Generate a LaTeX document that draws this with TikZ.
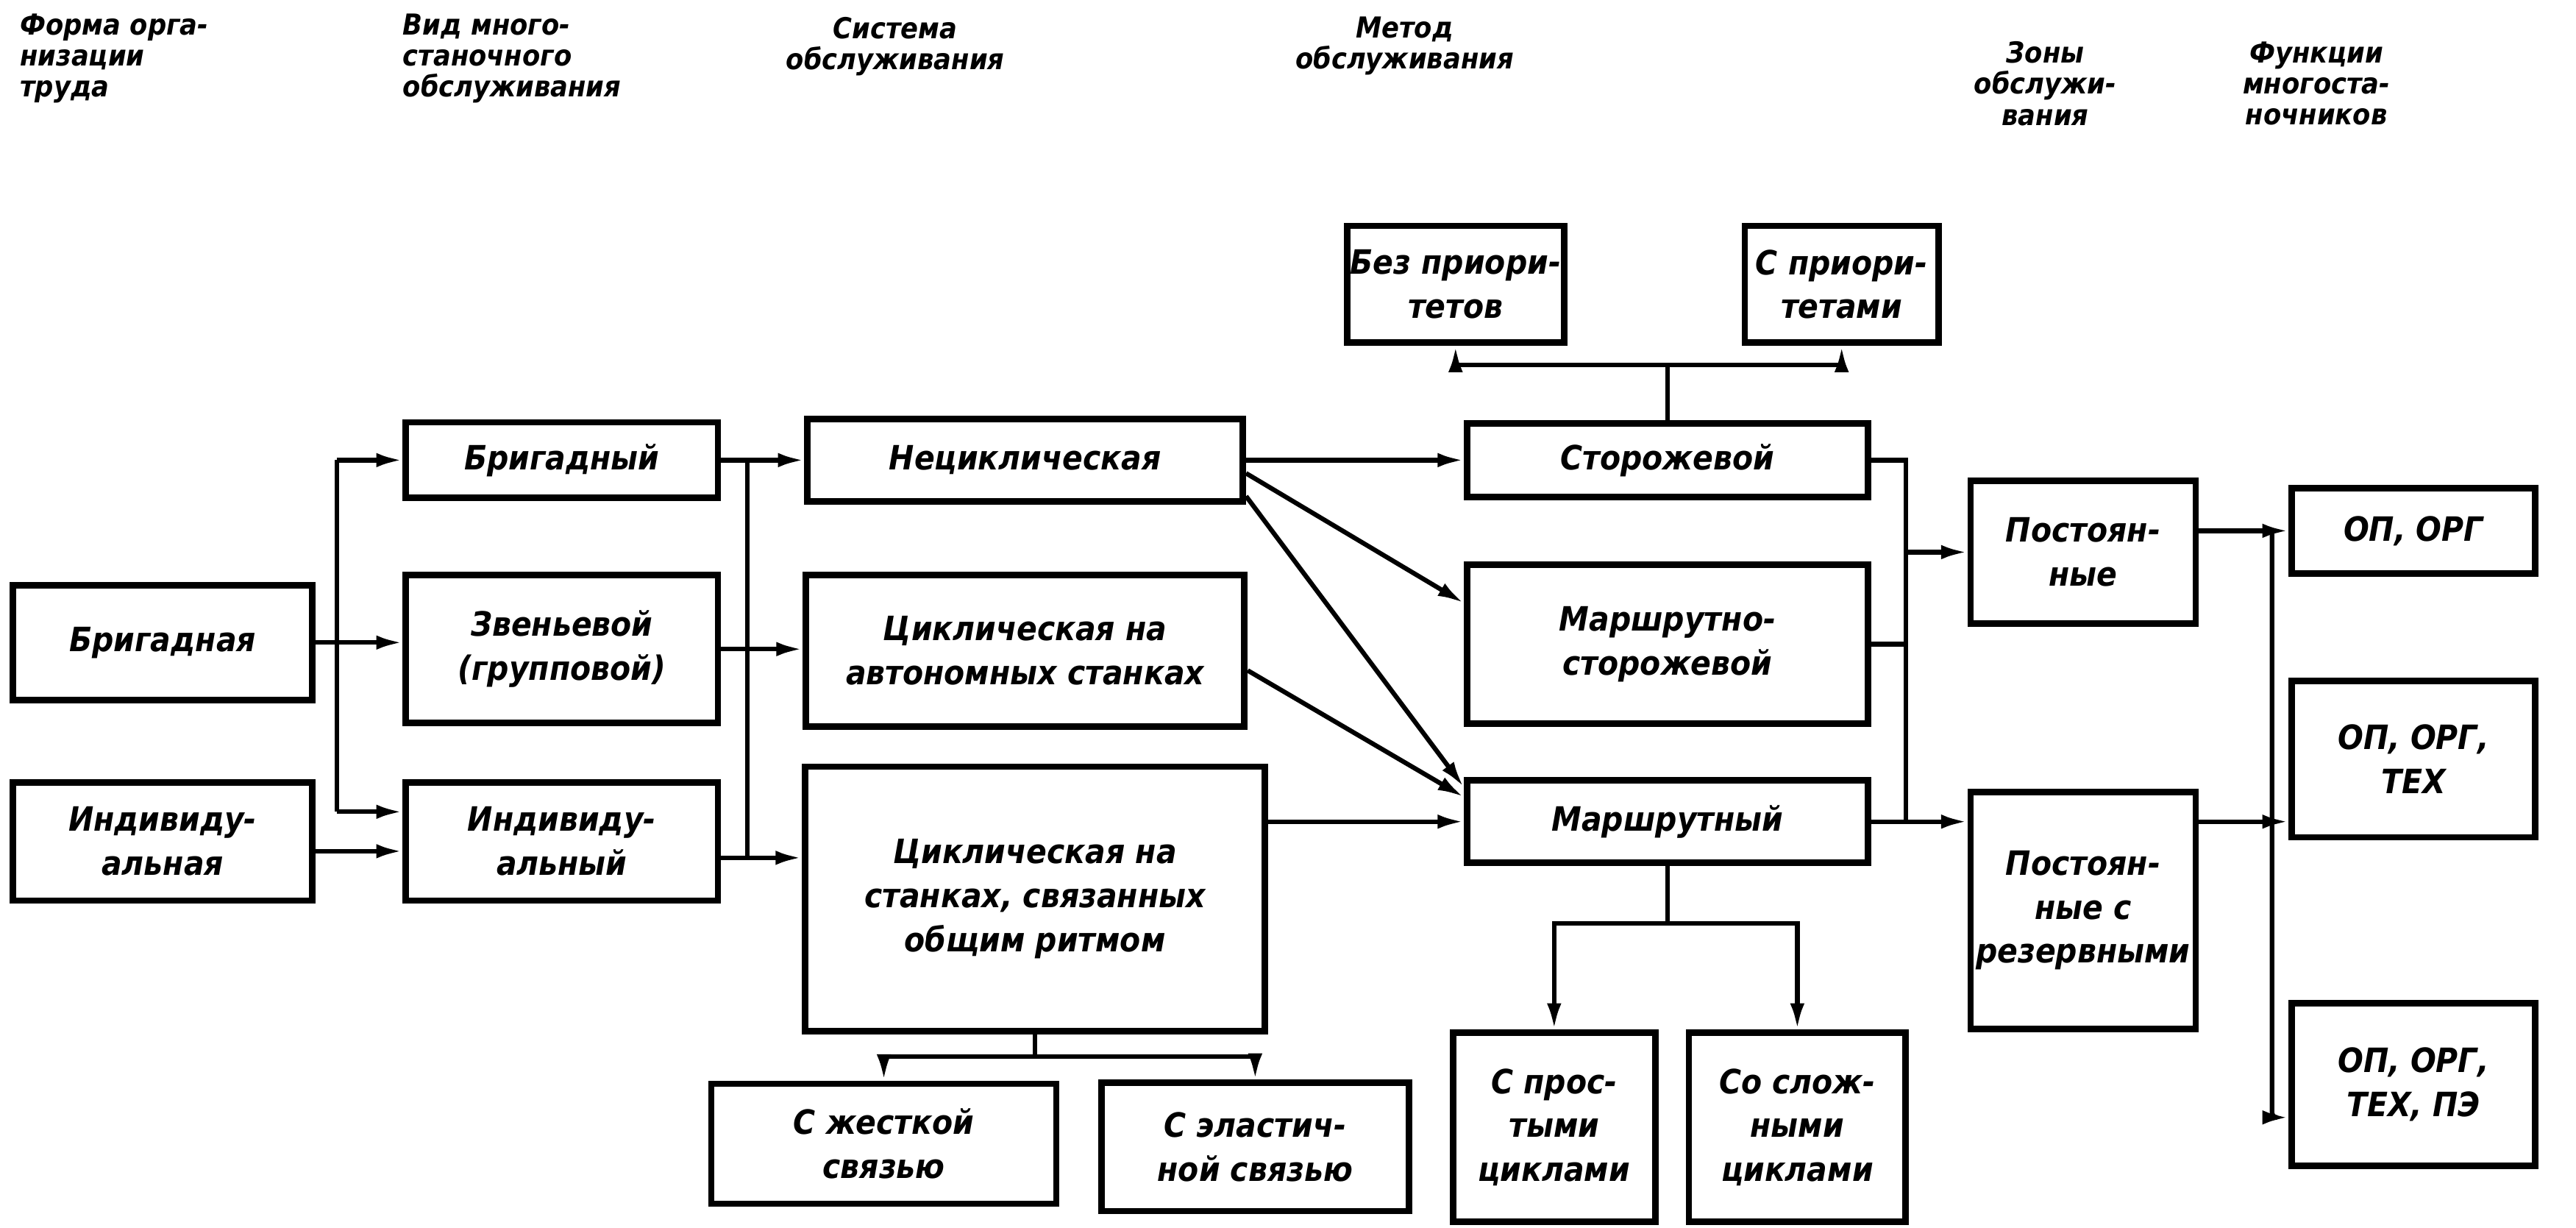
\documentclass[tikz,border=0pt]{standalone}
\usepackage{fontspec}
\setmainfont{DejaVu Sans}
\newfontfamily\bxfont{DejaVu Sans Condensed}
\usetikzlibrary{arrows.meta,calc}
\newdimen\ux \ux=0.25mm

\begin{document}
\begin{tikzpicture}[x=0.25mm,y=-0.25mm,
    blk/.style={draw,line width=2.8pt,inner sep=0pt,align=center,
      font=\bxfont\bfseries\itshape\fontsize{14.5}{19}\selectfont},
    hd/.style={inner sep=0pt,font=\bxfont\bfseries\itshape\fontsize{12.5}{13.5}\selectfont},
    ln/.style={line width=2pt},
    arr/.style={ln,-{Latex[length=4mm,width=2.2mm]}}]
    \useasboundingbox (0,0) rectangle (1568,747);

    % headings
    \node[hd,anchor=north west,align=left] (h1) at (12,8) {Форма орга-\\низации\\труда};
    \node[hd,anchor=north west,align=left] (h2) at (245,8) {Вид много-\\станочного\\обслуживания};
    \node[hd,anchor=north,align=center] (h3) at (545,10) {Система\\обслуживания};
    \node[hd,anchor=north,align=center] (h4) at (855,10) {Метод\\обслуживания};
    \node[hd,anchor=north,align=center] (h5) at (1245,25) {Зоны\\обслужи-\\вания};
    \node[hd,anchor=north,align=center] (h6) at (1410,25) {Функции\\многоста-\\ночников};

    % boxes
    \node[blk,minimum width=182\ux,minimum height=70\ux] (bbrig) at (99,391) {Бригадная};
    \node[blk,minimum width=182\ux,minimum height=72\ux] (bind) at (99,512) {Индивиду-\\альная};
    \node[blk,minimum width=190\ux,minimum height=46\ux] (cbrig) at (342,280) {Бригадный};
    \node[blk,minimum width=190\ux,minimum height=90\ux] (czven) at (342,395) {Звеньевой\\(групповой)};
    \node[blk,minimum width=190\ux,minimum height=72\ux] (cind) at (342,512) {Индивиду-\\альный};
    \node[blk,minimum width=265\ux,minimum height=50\ux] (snec) at (624,280) {Нециклическая};
    \node[blk,minimum width=267\ux,minimum height=92\ux] (savt) at (624,396) {Циклическая на\\автономных станках};
    \node[blk,minimum width=280\ux,minimum height=161\ux] (sritm) at (630,547) {Циклическая на\\станках, связанных\\общим ритмом};
    \node[blk,minimum width=210\ux,minimum height=73\ux] (szh) at (538,696) {С жесткой\\связью};
    \node[blk,minimum width=187\ux,minimum height=78\ux] (sel) at (764,698) {С эластич-\\ной связью};
    \node[blk,minimum width=132\ux,minimum height=71\ux] (mbez) at (886,173) {Без приори-\\тетов};
    \node[blk,minimum width=118\ux,minimum height=71\ux] (mspr) at (1121,173) {С приори-\\тетами};
    \node[blk,minimum width=244\ux,minimum height=45\ux] (mstor) at (1015,280) {Сторожевой};
    \node[blk,minimum width=244\ux,minimum height=97\ux] (mmst) at (1015,392) {Маршрутно-\\сторожевой};
    \node[blk,minimum width=244\ux,minimum height=50\ux] (mmar) at (1015,500) {Маршрутный};
    \node[blk,minimum width=123\ux,minimum height=115\ux] (mpr) at (946,686) {С прос-\\тыми\\циклами};
    \node[blk,minimum width=132\ux,minimum height=115\ux] (msl) at (1094,686) {Со слож-\\ными\\циклами};
    \node[blk,minimum width=137\ux,minimum height=87\ux] (zpost) at (1268,336) {Постоян-\\ные};
    \node[blk,minimum width=137\ux,minimum height=144\ux] (zrez) at (1268,554) {Постоян-\\ные с\\резервными};
    \node[blk,minimum width=148\ux,minimum height=52\ux] (f1) at (1469,323) {ОП, ОРГ};
    \node[blk,minimum width=148\ux,minimum height=95\ux] (f2) at (1469,462) {ОП, ОРГ,\\ТЕХ};
    \node[blk,minimum width=148\ux,minimum height=99\ux] (f3) at (1469,660) {ОП, ОРГ,\\ТЕХ, ПЭ};

    % form -> kind
    \coordinate (a1) at (205,280);
    \coordinate (a2) at (205,494);
    \draw[ln] (a1) -- (a2);
    \draw[arr] (a1) -- (cbrig.west);
    \draw[arr] (a2) -- (a2 -| cind.west);
    \draw[arr] (bbrig.east) -- (bbrig.east -| czven.west);
    \draw[arr] ($(bind.east)+(0,6)$) -- ($(cind.west)+(0,6)$);

    % kind -> system
    \coordinate (b1) at (455,280);
    \coordinate (b2) at (455,522);
    \draw[ln] (b1) -- (b2);
    \draw[arr] (cbrig.east) -- (snec.west);
    \draw[arr] (czven.east) -- (czven.east -| savt.west);
    \draw[arr] (cind.east |- b2) -- (b2 -| sritm.west);

    % system -> method
    \draw[arr] (snec.east) -- (mstor.west);
    \draw[arr] ($(snec.east)+(0,8)$) -- ($(mmst.west)+(0,-25)$);
    \draw[arr] ($(snec.south east)+(0,-5)$) -- ($(mmar.north west)+(0,6)$);
    \draw[arr] ($(savt.east)+(0,12)$) -- ($(mmar.north west)+(0,12)$);
    \draw[arr] (sritm.east |- mmar.west) -- (mmar.west);

    % sub-branches
    \coordinate (c1) at (1015,222);
    \draw[ln] (mstor.north) -- (c1);
    \draw[arr] (c1) -| (mbez.south);
    \draw[arr] (c1) -| (mspr.south);
    \coordinate (d1) at (1015,562);
    \draw[ln] (mmar.south) -- (d1);
    \draw[arr] (d1) -| (mpr.north);
    \draw[arr] (d1) -| (msl.north);
    \coordinate (e1) at (630,643);
    \draw[ln] (sritm.south) -- (e1);
    \draw[arr] (e1) -| (szh.north);
    \draw[arr] (e1) -| (sel.north);

    % method -> zones
    \coordinate (g1) at (1160,280);
    \coordinate (g2) at (1160,500);
    \draw[ln] (mstor.east) -- (g1) -- (g2);
    \draw[ln] (mmst.east) -- (mmst.east -| g1);
    \draw[arr] (mmar.east) -- (mmar.east -| zrez.west);
    \draw[arr] (g1 |- zpost.west) -- (zpost.west);

    % zones -> functions
    \coordinate (k1) at (1383,323);
    \coordinate (k2) at (1383,680);
    \coordinate (r) at (zrez.east |- mmar.east);
    \draw[arr] (zpost.east |- f1.west) -- (f1.west);
    \draw[arr] (r) -- (r -| f2.west);
    \draw[arr,rounded corners=3\ux] (k1) -- (k2) -- (k2 -| f3.west);
\end{tikzpicture}
\end{document}
